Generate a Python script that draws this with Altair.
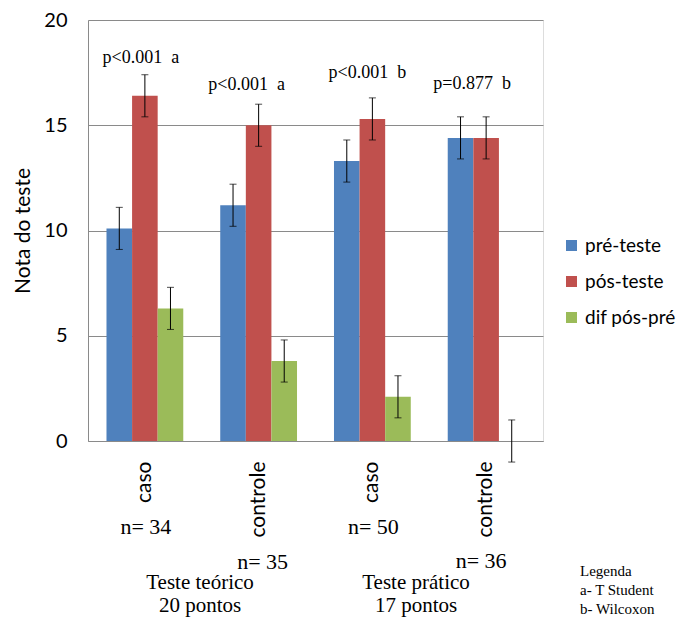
import altair as alt
import pandas as pd

# ---- data ----
grupos = ["Teórico caso", "Teórico controle", "Prático caso", "Prático controle"]
series = ["pré-teste", "pós-teste", "dif pós-pré"]
pre = [10.1, 11.2, 13.3, 14.4]
pos = [16.4, 15.0, 15.3, 14.4]
dif = [6.3, 3.8, 2.1, 0.0]
err_pre = [1.0, 1.0, 1.0, 1.0]
err_pos = [1.0, 1.0, 1.0, 1.0]
err_dif = [1.0, 1.0, 1.0, 1.0]
p_text = ["p<0.001\u00a0 a", "p<0.001\u00a0 a", "p<0.001\u00a0 b", "p=0.877\u00a0 b"]
p_height = [18.2, 16.9, 17.5, 16.95]
n_text = ["n= 34", "n= 35", "n= 50", "n= 36"]
bloco_text = [["Teste teórico", "20 pontos"], ["Teste prático", "17 pontos"]]
legenda_text = ["Legenda", "a- T Student", "b- Wilcoxon"]
cores = ["#4F81BD", "#C0504D", "#9BBB59"]

rows = []
for i, g in enumerate(grupos):
    for s, vals, errs in zip(series, [pre, pos, dif], [err_pre, err_pos, err_dif]):
        rows.append({"grupo": g, "serie": s, "valor": vals[i],
                     "lo": vals[i] - errs[i], "hi": vals[i] + errs[i]})
df = pd.DataFrame(rows)

SANS = "Lato"
SERIF = "Liberation Serif"
GRAY = "#8a8a8a"

x_enc = alt.X("grupo:N", sort=grupos,
              scale=alt.Scale(paddingInner=0.325, paddingOuter=0.1625),
              axis=alt.Axis(title=None, labelExpr="split(datum.label, ' ')[1]",
                            labelAngle=270, labelAlign="right", labelBaseline="middle",
                            labelPadding=20, labelFontSize=21, labelFont=SANS,
                            labelColor="black", ticks=False, domainColor=GRAY))
xo_enc = alt.XOffset("serie:N", sort=series,
                     scale=alt.Scale(paddingInner=0, paddingOuter=0))
y_scale = alt.Scale(domain=[0, 20], nice=False)

bars = alt.Chart(df).mark_bar().encode(
    x=x_enc,
    xOffset=xo_enc,
    y=alt.Y("valor:Q", scale=y_scale,
            axis=alt.Axis(values=[0, 5, 10, 15, 20], title="Nota do teste",
                          grid=True, gridColor=GRAY, domainColor=GRAY, ticks=False,
                          labelFontSize=20, labelFont=SANS, labelColor="black",
                          labelPadding=21, titleFont=SANS, titleFontSize=21,
                          titleFontWeight="normal", titleColor="black",
                          titlePadding=10)),
    color=alt.Color("serie:N", sort=series,
                    scale=alt.Scale(domain=series, range=cores),
                    legend=alt.Legend(title=None, orient="none", legendX=474, legendY=216,
                                      symbolType="square", symbolSize=121,
                                      symbolStrokeWidth=0, labelFontSize=19,
                                      labelFont=SANS, labelColor="black",
                                      labelOffset=4, rowPadding=16)),
)

rule = alt.Chart(df).mark_rule(color="black", strokeWidth=1).encode(
    x=alt.X("grupo:N", sort=grupos), xOffset=alt.XOffset("serie:N", sort=series),
    y=alt.Y("lo:Q", scale=y_scale), y2="hi:Q")
cap_lo = alt.Chart(df).mark_tick(color="black", thickness=1, size=7).encode(
    x=alt.X("grupo:N", sort=grupos), xOffset=alt.XOffset("serie:N", sort=series),
    y=alt.Y("lo:Q", scale=y_scale))
cap_hi = alt.Chart(df).mark_tick(color="black", thickness=1, size=7).encode(
    x=alt.X("grupo:N", sort=grupos), xOffset=alt.XOffset("serie:N", sort=series),
    y=alt.Y("hi:Q", scale=y_scale))

layers = [bars, rule, cap_lo, cap_hi]

# p-value annotations
p_dx = [-4, -12, -5, -14]
for i in range(4):
    d = pd.DataFrame({"grupo": [grupos[i]], "txt": [p_text[i]], "h": [p_height[i]]})
    layers.append(alt.Chart(d).mark_text(font=SERIF, fontSize=18, color="black",
                                         baseline="middle", dx=p_dx[i]).encode(
        x=alt.X("grupo:N", sort=grupos), y=alt.Y("h:Q", scale=y_scale), text="txt:N"))

# n= annotations below the axis
n_dx = [1, 4, 1, -5]
n_y = [507, 542, 507, 541]
for i in range(4):
    d = pd.DataFrame({"grupo": [grupos[i]], "txt": [n_text[i]]})
    layers.append(alt.Chart(d).mark_text(font=SERIF, fontSize=22, color="black",
                                         baseline="middle", dx=n_dx[i]).encode(
        x=alt.X("grupo:N", sort=grupos), y=alt.value(n_y[i]), text="txt:N"))

# block titles
bloco_x = [112, 328]
for j in range(2):
    for k in range(2):
        d = pd.DataFrame({"txt": [bloco_text[j][k]]})
        layers.append(alt.Chart(d).mark_text(font=SERIF, fontSize=21, color="black",
                                             baseline="middle").encode(
            x=alt.value(bloco_x[j]), y=alt.value(563 + 23 * k), text="txt:N"))

# legend of tests
for k in range(3):
    d = pd.DataFrame({"txt": [legenda_text[k]]})
    layers.append(alt.Chart(d).mark_text(font=SERIF, fontSize=15, color="black",
                                         baseline="middle", align="left").encode(
        x=alt.value(492), y=alt.value(551 + 19 * k), text="txt:N"))

chart = alt.layer(*layers).properties(
    width=455, height=421,
    autosize=alt.AutoSizeParams(type="none"),
    padding={"left": 80, "top": 12, "right": 133, "bottom": 176},
).configure_view(stroke=None).configure(background="white")

chart.save("out.html", embed_options={"renderer": "svg", "actions": False})
